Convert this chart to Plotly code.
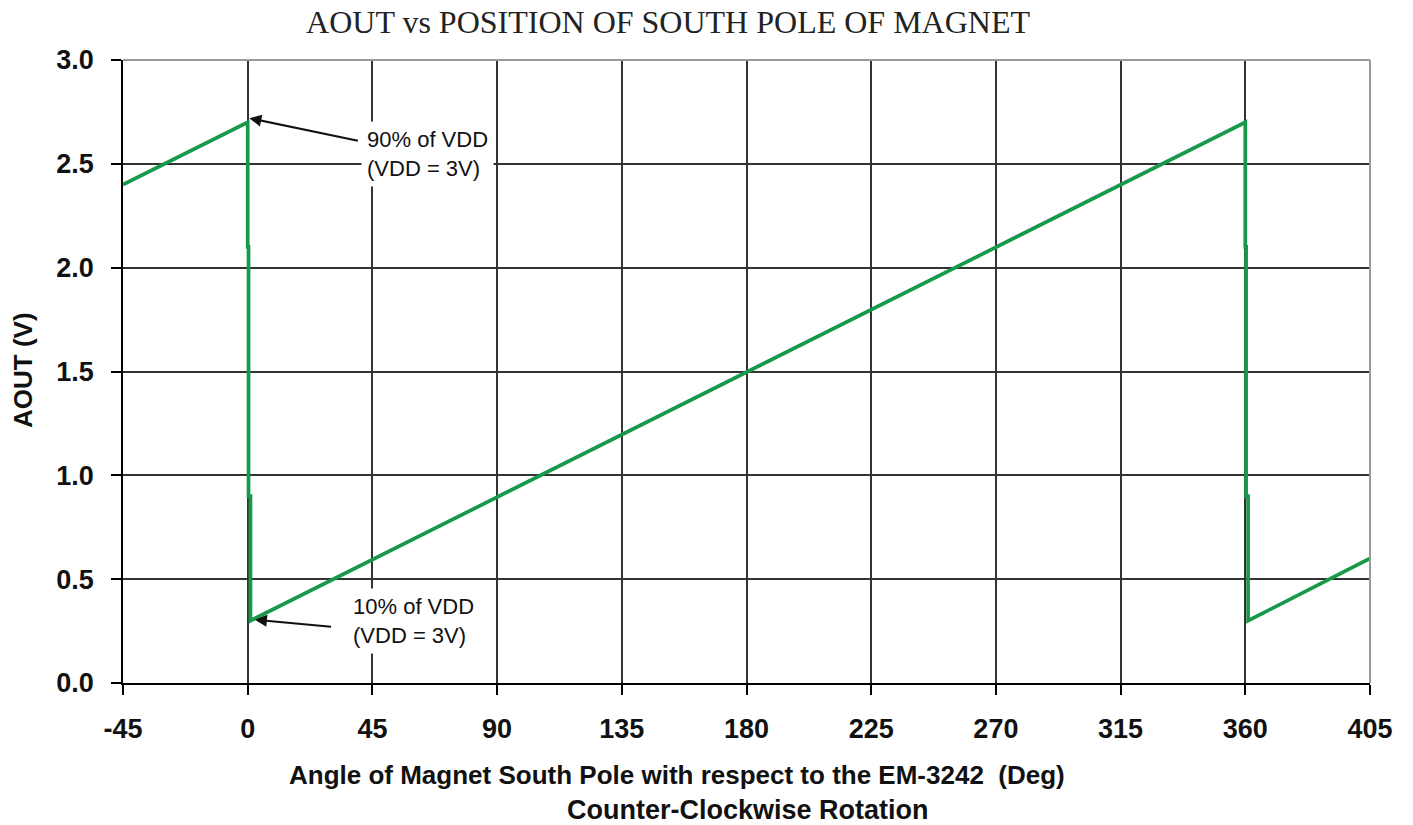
import plotly.graph_objects as go

# Analog output of the encoder versus magnet angle (sawtooth with a stepped fall-back)
angle_deg = [-45, 0, 0, 0.3, 0.3, 1.0, 1.0, 360, 360, 360.3, 360.3, 361.0, 361.0, 405]
aout_v = [2.4, 2.7, 2.1, 2.1, 0.9, 0.9, 0.3, 2.7, 2.1, 2.1, 0.9, 0.9, 0.3, 0.6]

x_ticks = [-45, 0, 45, 90, 135, 180, 225, 270, 315, 360, 405]
y_ticks = [0.0, 0.5, 1.0, 1.5, 2.0, 2.5, 3.0]

title_text = "AOUT vs POSITION OF SOUTH POLE OF MAGNET"
x_title_1 = "Angle of Magnet South Pole with respect to the EM-3242  (Deg)"
x_title_2 = "Counter-Clockwise Rotation"
y_title = "AOUT (V)"
note_high = "90% of VDD<br>(VDD = 3V)"
note_low = "10% of VDD<br>(VDD = 3V)"

GREEN = "#17994a"
GRID = "#333333"
SANS = "Liberation Sans, Arial, sans-serif"
SERIF = "Liberation Serif, Times New Roman, serif"

fig = go.Figure()
fig.add_trace(go.Scatter(
    x=angle_deg, y=aout_v, mode="lines",
    line=dict(color=GREEN, width=3.7),
    hoverinfo="skip", showlegend=False,
))

axis_common = dict(
    showgrid=True, gridcolor=GRID, gridwidth=1.5,
    showline=True, linecolor="#000000", linewidth=1.5,
    ticks="outside", ticklen=10, tickcolor="#000000", tickwidth=1.5,
    tickfont=dict(family=SANS, size=27, color="#111111", weight="bold"),
    zeroline=False, fixedrange=True,
)

fig.update_xaxes(
    range=[-45, 405], tickvals=x_ticks, ticktext=[str(v) for v in x_ticks],
    ticklabelstandoff=11, **axis_common,
)
fig.update_yaxes(
    range=[0, 3], tickvals=y_ticks, ticktext=[f"{v:.1f}" for v in y_ticks],
    ticklabelstandoff=12, **axis_common,
)

# gray frame on the top and right edges of the plotting area
fig.add_shape(type="line", xref="paper", yref="paper", x0=0, x1=1, y0=1, y1=1,
              line=dict(color="#9a9a9a", width=2), layer="above")
fig.add_shape(type="line", xref="paper", yref="paper", x0=1, x1=1, y0=0, y1=1,
              line=dict(color="#9a9a9a", width=2), layer="above")

annotations = [
    # axis titles
    dict(text=x_title_1, xref="paper", yref="paper", x=0.4443, y=-0.1477,
         xanchor="center", yanchor="middle", showarrow=False,
         font=dict(family=SANS, size=26, color="#111111", weight="bold")),
    dict(text=x_title_2, xref="paper", yref="paper", x=0.5014, y=-0.2039,
         xanchor="center", yanchor="middle", showarrow=False,
         font=dict(family=SANS, size=27, color="#111111", weight="bold")),
    dict(text=y_title, xref="paper", yref="paper", x=-0.0802, y=0.5024,
         xanchor="center", yanchor="middle", showarrow=False, textangle=-90,
         font=dict(family=SANS, size=26, color="#111111", weight="bold")),
    # callout texts
    dict(text=note_high, xref="x", yref="y", x=41.0, y=2.545,
         xanchor="left", yanchor="middle", align="left", showarrow=False,
         bgcolor="#ffffff", borderpad=5,
         font=dict(family=SANS, size=22, color="#111111")),
    dict(text=note_low, xref="x", yref="y", x=36.0, y=0.30,
         xanchor="left", yanchor="middle", align="left", showarrow=False,
         bgcolor="#ffffff", borderpad=5,
         font=dict(family=SANS, size=22, color="#111111")),
    # callout arrows
    dict(text="", xref="x", yref="y", x=0.6, y=2.72, axref="x", ayref="y",
         ax=40.3, ay=2.61, showarrow=True, arrowhead=2, arrowsize=1.2,
         arrowwidth=2, arrowcolor="#111111", standoff=0),
    dict(text="", xref="x", yref="y", x=2.6, y=0.305, axref="x", ayref="y",
         ax=30.6, ay=0.27, showarrow=True, arrowhead=2, arrowsize=1.2,
         arrowwidth=2, arrowcolor="#111111", standoff=0),
]

fig.update_layout(
    width=1413, height=825,
    margin=dict(l=123, r=43, t=60, b=142),
    paper_bgcolor="#ffffff", plot_bgcolor="#ffffff",
    title=dict(text=title_text, xref="container", yref="container",
               x=0.4728, y=0.9733, xanchor="center", yanchor="middle",
               font=dict(family=SERIF, size=32, color="#222222")),
    annotations=annotations,
    showlegend=False,
)

fig.write_html("out.html", config={"displayModeBar": False})
